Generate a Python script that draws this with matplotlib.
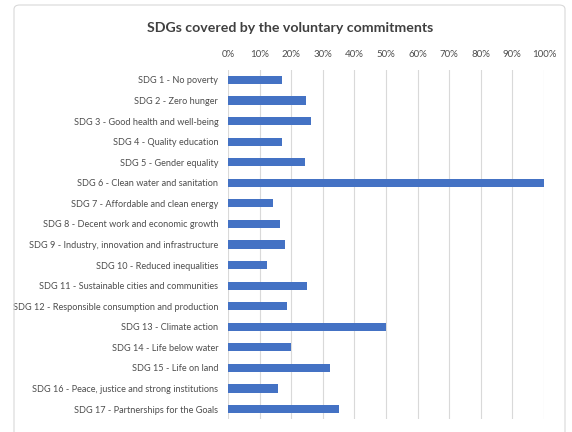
import matplotlib
matplotlib.use("Agg")
import matplotlib.pyplot as plt
from matplotlib.patches import FancyBboxPatch
from matplotlib.ticker import PercentFormatter

categories = [
    "SDG 1 - No poverty",
    "SDG 2 - Zero hunger",
    "SDG 3 - Good health and well-being",
    "SDG 4 - Quality education",
    "SDG 5 - Gender equality",
    "SDG 6 - Clean water and sanitation",
    "SDG 7 - Affordable and clean energy",
    "SDG 8 - Decent work and economic growth",
    "SDG 9 - Industry, innovation and infrastructure",
    "SDG 10 - Reduced inequalities",
    "SDG 11 - Sustainable cities and communities",
    "SDG 12 - Responsible consumption and production",
    "SDG 13 - Climate action",
    "SDG 14 - Life below water",
    "SDG 15 - Life on land",
    "SDG 16 - Peace, justice and strong institutions",
    "SDG 17 - Partnerships for the Goals",
]
values = [17.1, 24.8, 26.3, 17.1, 24.5, 100.0, 14.2, 16.6, 17.9, 12.3,
          25.0, 18.6, 50.0, 19.9, 32.2, 15.9, 35.2]
xticks = [0, 10, 20, 30, 40, 50, 60, 70, 80, 90, 100]
title = "SDGs covered by the voluntary commitments"

plt.rcParams['font.family'] = ['Lato', 'DejaVu Sans']

fig = plt.figure(figsize=(5.72, 4.32), dpi=100)
ax = fig.add_axes([0.3986, 0.0294, 0.5524, 0.8093])

y = list(range(len(categories)))
ax.barh(y, values, height=0.4, color="#4472C4", zorder=3)
ax.set_ylim(len(categories) - 0.5, -0.5)
ax.set_xlim(0, 100)
ax.set_yticks(y)
ax.set_yticklabels(categories, fontsize=6.6, color="#4d4d4d")
ax.set_xticks(xticks)
ax.xaxis.set_major_formatter(PercentFormatter(decimals=0))
ax.xaxis.tick_top()
ax.tick_params(axis='x', length=0, pad=8, labelsize=7, labelcolor="#4d4d4d")
ax.tick_params(axis='y', length=0, pad=7)
ax.grid(axis='x', color="#D9D9D9", linewidth=0.8, zorder=0)
for s in ax.spines.values():
    s.set_visible(False)

fig.text(290 / 572, 1 - 28 / 432, title, ha='center', va='center',
         fontsize=10.2, fontweight='bold', color="#404040")

border = FancyBboxPatch((14 / 572, -0.05), 551 / 572, 1 - 5 / 432 + 0.05,
                        boxstyle="round,pad=0,rounding_size=0.01",
                        transform=fig.transFigure, fill=False,
                        edgecolor="#D9D9D9", linewidth=0.8)
fig.patches.append(border)

fig.savefig("out.png", dpi=100)
